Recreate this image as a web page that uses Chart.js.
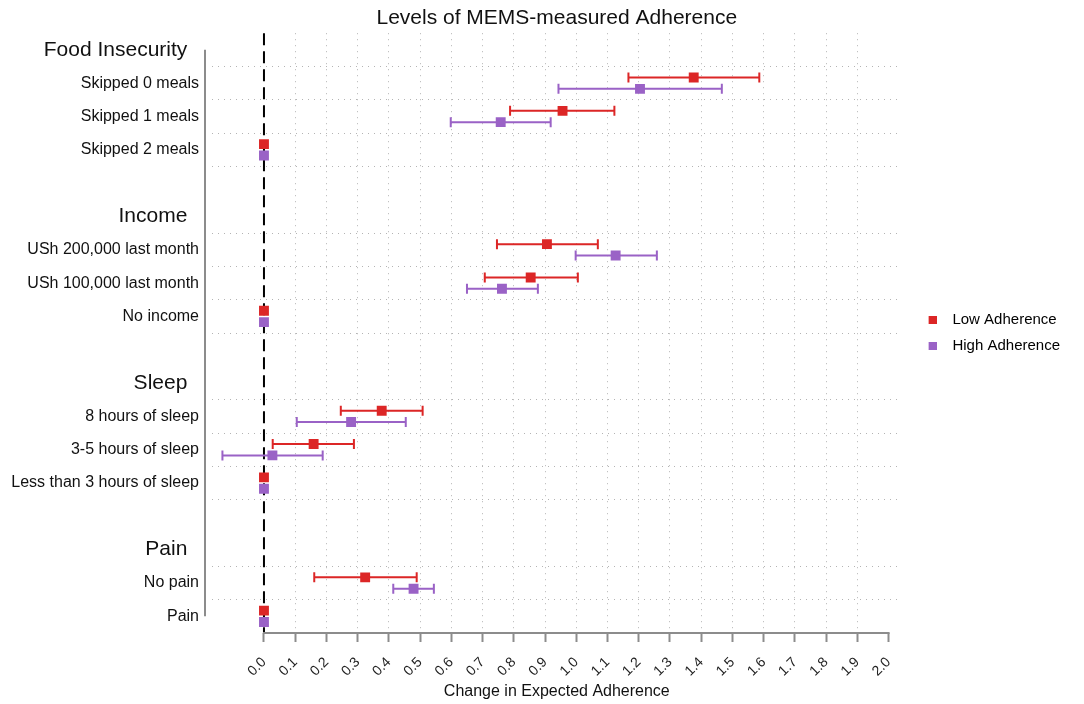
<!DOCTYPE html>
<html>
<head>
<meta charset="utf-8">
<title>Levels of MEMS-measured Adherence</title>
<script src="https://cdn.jsdelivr.net/npm/chart.js@4.4.1/dist/chart.umd.min.js"></script>
<style>
    html, body { margin: 0; padding: 0; background: #fff; }
    #chartBox { width: 1084px; height: 704px; }
</style>
</head>
<body>
<div id="chartBox"><canvas id="adherenceChart" width="1084" height="704"></canvas></div>
<script>
// Rows from top to bottom (empty string = spacer row)
const rowLabels = [
    'Food Insecurity', 'Skipped 0 meals', 'Skipped 1 meals', 'Skipped 2 meals', '',
    'Income', 'USh 200,000 last month', 'USh 100,000 last month', 'No income', '',
    'Sleep', '8 hours of sleep', '3-5 hours of sleep', 'Less than 3 hours of sleep', '',
    'Pain', 'No pain', 'Pain'
];
const headerRows = [0, 5, 10, 15];

const seriesNames = ['Low Adherence', 'High Adherence'];
const seriesColors = ['#dc2626', '#9a62c6'];

// Low adherence: estimate and interval per row
const lowEst   = [null, 1.376, 0.956, 0, null, null, 0.906, 0.854, 0, null, null, 0.377, 0.159, 0, null, null, 0.324, 0];
const lowLower = [null, 1.167, 0.788, null, null, null, 0.746, 0.707, null, null, null, 0.246, 0.028, null, null, null, 0.161, null];
const lowUpper = [null, 1.586, 1.122, null, null, null, 1.069, 1.005, null, null, null, 0.508, 0.288, null, null, null, 0.489, null];

// High adherence
const highEst   = [null, 1.204, 0.758, 0, null, null, 1.126, 0.762, 0, null, null, 0.279, 0.027, 0, null, null, 0.479, 0];
const highLower = [null, 0.943, 0.598, null, null, null, 0.998, 0.650, null, null, null, 0.105, -0.133, null, null, null, 0.414, null];
const highUpper = [null, 1.466, 0.918, null, null, null, 1.258, 0.877, null, null, null, 0.454, 0.188, null, null, null, 0.544, null];

const xTicks = [0, 0.1, 0.2, 0.3, 0.4, 0.5, 0.6, 0.7, 0.8, 0.9, 1.0, 1.1, 1.2, 1.3, 1.4, 1.5, 1.6, 1.7, 1.8, 1.9, 2.0];

const FONT = "'Liberation Sans', Arial, Helvetica, sans-serif";
const rowShift = [-0.17, 0.17];

// dotted lines sit between the item rows of each group
const itemRows = rowLabels.map((l, i) => i).filter(i => rowLabels[i] && !headerRows.includes(i));
const boundaries = [];
itemRows.forEach(i => {
    [i - 0.5, i + 0.5].forEach(b => {
        if (b < rowLabels.length - 1 && !boundaries.includes(b)) boundaries.push(b);
    });
});

function buildPoints(est, shift) {
    const pts = [];
    est.forEach((v, i) => {
        if (v !== null) pts.push({x: v, y: i + shift});
    });
    return pts;
}

// legend marker: small square on the right side of a wider box
function legendMark(color) {
    const c = document.createElement('canvas');
    c.width = 24;
    c.height = 8;
    const g = c.getContext('2d');
    g.fillStyle = color;
    g.fillRect(16, 0, 8, 8);
    return c;
}

const errorBarPlugin = {
    id: 'errorBars',
    beforeDatasetsDraw(chart) {
        const {ctx, chartArea, scales: {x, y}} = chart;
        ctx.save();

        // reference line at zero
        ctx.strokeStyle = '#000';
        ctx.lineWidth = 2;
        ctx.setLineDash([12, 6]);
        ctx.beginPath();
        ctx.moveTo(x.getPixelForValue(0), chartArea.top);
        ctx.lineTo(x.getPixelForValue(0), chartArea.bottom);
        ctx.stroke();
        ctx.setLineDash([]);

        // x axis line only across the tick range
        ctx.strokeStyle = '#8c8c8c';
        ctx.beginPath();
        ctx.moveTo(x.getPixelForValue(xTicks[0]) - 1, chartArea.bottom);
        ctx.lineTo(x.getPixelForValue(xTicks[xTicks.length - 1]) + 1, chartArea.bottom);
        ctx.stroke();

        // y axis line from first to last row, set off from the plot
        ctx.beginPath();
        ctx.moveTo(chartArea.left - 7, y.getPixelForValue(0));
        ctx.lineTo(chartArea.left - 7, y.getPixelForValue(rowLabels.length - 1));
        ctx.stroke();

        // intervals
        const lowers = [lowLower, highLower];
        const uppers = [lowUpper, highUpper];
        ctx.lineWidth = 2;
        lowers.forEach((lo, s) => {
            ctx.strokeStyle = seriesColors[s];
            lo.forEach((v, i) => {
                if (v === null) return;
                const py = y.getPixelForValue(i + rowShift[s]);
                const x1 = x.getPixelForValue(v);
                const x2 = x.getPixelForValue(uppers[s][i]);
                ctx.beginPath();
                ctx.moveTo(x1, py);
                ctx.lineTo(x2, py);
                ctx.moveTo(x1, py - 5);
                ctx.lineTo(x1, py + 5);
                ctx.moveTo(x2, py - 5);
                ctx.lineTo(x2, py + 5);
                ctx.stroke();
            });
        });
        ctx.restore();
    }
};

new Chart(document.getElementById('adherenceChart'), {
    type: 'scatter',
    data: {
        datasets: [
            {
                label: seriesNames[0],
                data: buildPoints(lowEst, rowShift[0]),
                backgroundColor: seriesColors[0],
                borderColor: seriesColors[0],
                pointStyle: 'rect',
                pointRadius: 7,
                borderWidth: 0
            },
            {
                label: seriesNames[1],
                data: buildPoints(highEst, rowShift[1]),
                backgroundColor: seriesColors[1],
                borderColor: seriesColors[1],
                pointStyle: 'rect',
                pointRadius: 7,
                borderWidth: 0
            }
        ]
    },
    options: {
        responsive: false,
        animation: false,
        devicePixelRatio: 1,
        layout: { padding: { left: 0, right: 14, top: 0, bottom: 0 } },
        plugins: {
            title: {
                display: true,
                text: 'Levels of MEMS-measured Adherence',
                fullSize: false,
                color: '#111',
                font: { family: FONT, size: 21, weight: 'normal' },
                padding: { top: 6, bottom: 2 }
            },
            legend: {
                position: 'right',
                fullSize: false,
                labels: {
                    usePointStyle: true,
                    pointStyleWidth: 24,
                    boxHeight: 8,
                    padding: 11,
                    color: '#111',
                    font: { family: FONT, size: 15 },
                    generateLabels(chart) {
                        return seriesNames.map((name, s) => ({
                            text: '  ' + name,
                            fillStyle: seriesColors[s],
                            strokeStyle: seriesColors[s],
                            lineWidth: 0,
                            pointStyle: legendMark(seriesColors[s]),
                            hidden: false,
                            datasetIndex: s
                        }));
                    }
                }
            },
            tooltip: { enabled: false }
        },
        scales: {
            x: {
                type: 'linear',
                min: -0.1664,
                max: 2.0416,
                afterBuildTicks(scale) {
                    scale.ticks = xTicks.map(v => ({value: v}));
                },
                afterFit(scale) {
                    scale.height = 71;
                },
                ticks: {
                    autoSkip: false,
                    minRotation: 45,
                    maxRotation: 45,
                    padding: 12,
                    color: '#222',
                    font: { family: FONT, size: 14 },
                    callback: v => v.toFixed(1)
                },
                grid: {
                    color: ctx => (ctx.tick && (ctx.tick.value === 0 || ctx.tick.value === 2)) ? 'rgba(0,0,0,0)' : '#b4b4b4',
                    lineWidth: 1,
                    drawTicks: true,
                    tickLength: 9,
                    tickWidth: 2,
                    tickColor: '#8c8c8c'
                },
                border: { display: false, dash: [1, 5] },
                title: {
                    display: true,
                    text: 'Change in Expected Adherence',
                    color: '#111',
                    font: { family: FONT, size: 16 },
                    padding: { top: 0, bottom: 3 }
                }
            },
            y: {
                type: 'linear',
                reverse: true,
                min: -0.5,
                max: rowLabels.length - 0.5,
                afterBuildTicks(scale) {
                    const t = rowLabels.map((l, i) => i).concat(boundaries);
                    scale.ticks = t.sort((a, b) => a - b).map(v => ({value: v}));
                },
                afterFit(scale) {
                    scale.width = 212;
                },
                ticks: {
                    autoSkip: false,
                    padding: 13,
                    color: '#111',
                    font: ctx => ({
                        family: FONT,
                        size: (ctx.tick && headerRows.includes(ctx.tick.value)) ? 21 : 16
                    }),
                    callback: v => {
                        if (!Number.isInteger(v)) return '';
                        return headerRows.includes(v) ? rowLabels[v] + '  ' : rowLabels[v];
                    }
                },
                grid: {
                    color: ctx => (ctx.tick && boundaries.includes(ctx.tick.value)) ? '#b4b4b4' : 'rgba(0,0,0,0)',
                    lineWidth: 1,
                    drawTicks: false
                },
                border: { display: false, dash: [1, 5] }
            }
        }
    },
    plugins: [errorBarPlugin]
});
</script>
</body>
</html>
